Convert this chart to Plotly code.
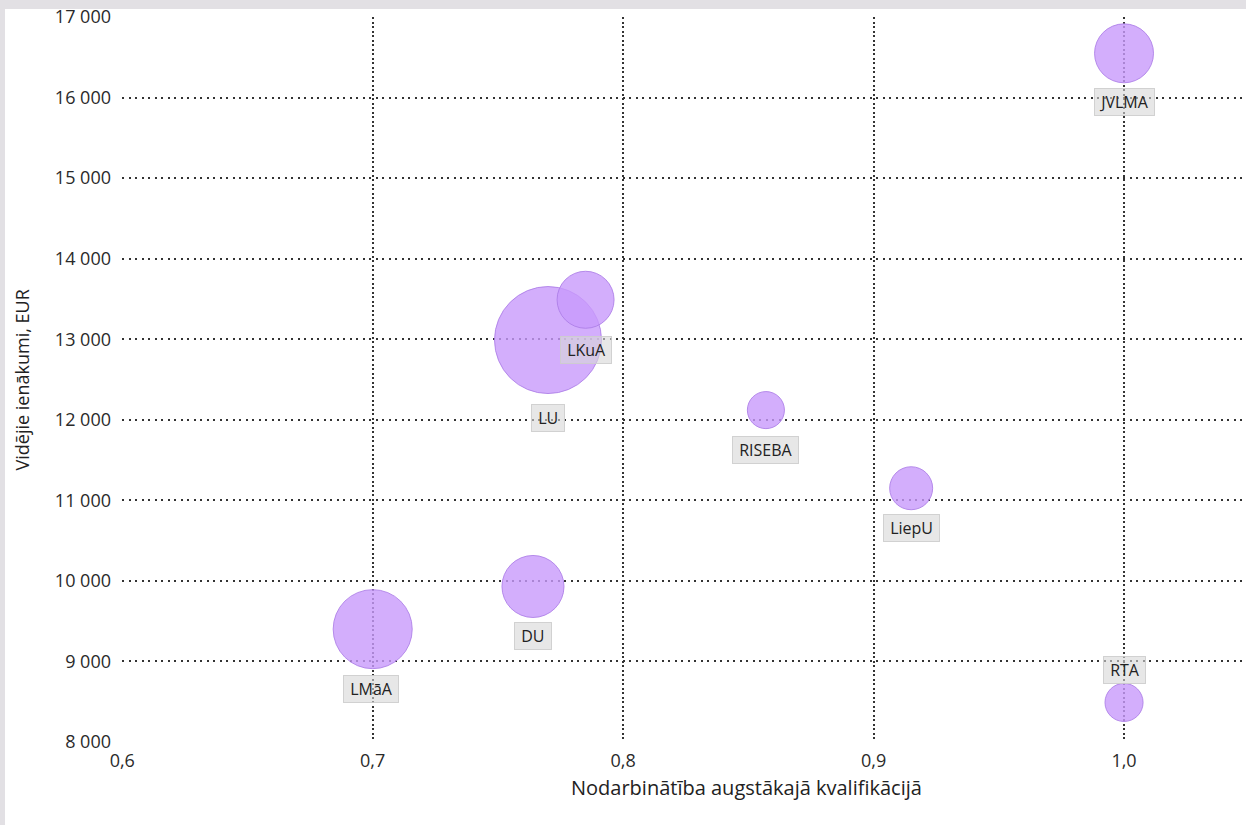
import plotly.graph_objects as go

# ---- data ----
universities = ["JVLMA", "LU", "LKuA", "RISEBA", "LiepU", "DU", "LMāA", "RTA"]
employment = [1.0, 0.77, 0.785, 0.857, 0.915, 0.764, 0.70, 1.0]
income = [16550, 12990, 13490, 12120, 11150, 9930, 9400, 8490]
graduates = [1390, 4580, 1300, 550, 740, 1540, 2500, 580]

x_ticks = [0.6, 0.7, 0.8, 0.9, 1.0]
y_ticks = [8000, 9000, 10000, 11000, 12000, 13000, 14000, 15000, 16000, 17000]

x_title = "Nodarbinātība augstākajā kvalifikācijā"
y_title = "Vidējie ienākumi, EUR"

# label offsets (pixels) relative to each bubble centre – styling only
label_shift = [(0, -49), (0, -78), (0, -50), (0, -40), (0, -40), (0, -50), (-2, -60), (0, 32)]

FONT = "Open Sans"
max_d = 107
sizeref = 2.0 * max(graduates) / (max_d ** 2)

fig = go.Figure()
fig.add_trace(go.Scatter(
    x=employment, y=income, mode="markers",
    marker=dict(size=graduates, sizemode="area", sizeref=sizeref, opacity=1,
                color="rgba(200,154,251,0.8)",
                line=dict(color="rgba(172,124,230,0.85)", width=1)),
    hoverinfo="text", text=universities, showlegend=False,
))

annotations = []
for name, xv, yv, (dx, dy) in zip(universities, employment, income, label_shift):
    annotations.append(dict(
        x=xv, y=yv, xref="x", yref="y", text="&nbsp;" + name + "&nbsp;", showarrow=False,
        xshift=dx, yshift=dy,
        font=dict(family=FONT, size=16, color="#222222"),
        bgcolor="rgba(215,215,215,0.6)", bordercolor="rgba(205,205,205,0.9)",
        borderwidth=1, borderpad=2,
    ))

annotations.append(dict(
    x=0.556, y=-0.063, xref="paper", yref="paper", text=x_title, showarrow=False,
    font=dict(family=FONT, size=20, color="#222222"), xanchor="center", yanchor="middle",
))
annotations.append(dict(
    x=-0.089, y=0.5, xref="paper", yref="paper", text=y_title, showarrow=False,
    textangle=-90, font=dict(family=FONT, size=18, color="#222222"),
    xanchor="center", yanchor="middle",
))

fig.update_layout(
    width=1246, height=825,
    margin=dict(l=122, r=0, t=17, b=83),
    paper_bgcolor="#e2e0e4",
    plot_bgcolor="rgba(0,0,0,0)",
    separators=", ",
    annotations=annotations,
    shapes=[dict(type="rect", xref="paper", yref="paper",
                 x0=-0.1041, x1=1.05, y0=-0.2, y1=1.0110,
                 fillcolor="white", line=dict(width=0), layer="below")],
    xaxis=dict(
        range=[0.5999, 1.0487], tickvals=x_ticks, tickformat=".1f",
        showgrid=True, gridcolor="#333333", gridwidth=1.5, griddash="2px,2.5px",
        zeroline=False, showline=False, ticks="",
        tickfont=dict(family=FONT, size=18, color="#2a2a2a"),
        ticklabelstandoff=6,
    ),
    yaxis=dict(
        range=[7999, 17001], tickvals=y_ticks, tickformat=",d",
        showgrid=True, gridcolor="#333333", gridwidth=1.5, griddash="2px,4.5px",
        zeroline=False, showline=False, ticks="",
        tickfont=dict(family=FONT, size=18, color="#2a2a2a"),
        ticklabelstandoff=10,
    ),
)

fig.write_html("out.html", config={"displayModeBar": False},
               post_script="document.body.style.margin='0';")
